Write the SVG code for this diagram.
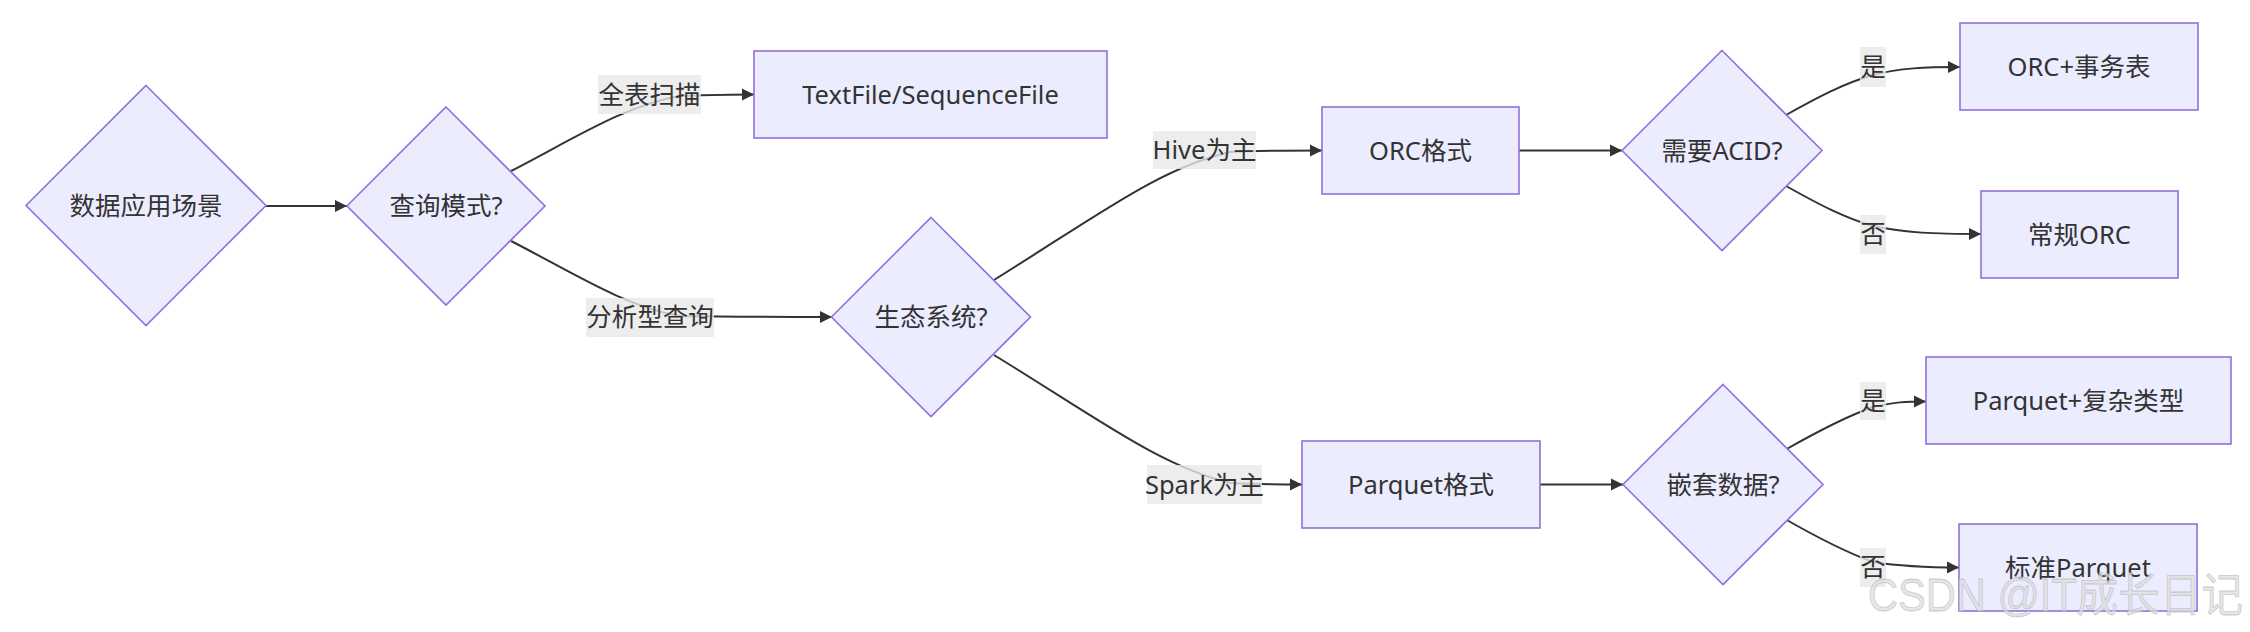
<svg xmlns="http://www.w3.org/2000/svg" width="2250" height="632" viewBox="0 0 2250 632">
<style>
.node rect, .node polygon { fill: #ECECFF; stroke: #9370DB; stroke-width: 1.6; }
.edge { fill: none; stroke: #333333; stroke-width: 2; marker-end: url(#arrow); }
text { font-family: "Noto Sans", "Noto Sans CJK SC", sans-serif; font-size: 25.5px; fill: #333333; text-anchor: middle; }
.lbl rect { fill: #e8e8e8; fill-opacity: 0.8; }
.wm { font-family: "Liberation Sans", "Noto Sans CJK SC", sans-serif; font-size: 46px; fill: #dedede; fill-opacity: 0.75; stroke: #b0b0b0; stroke-width: 0.8; stroke-opacity: 0.6; text-anchor: start; }
</style>
<defs>
<marker id="arrow" viewBox="0 0 10 10" refX="10" refY="5" markerUnits="userSpaceOnUse" markerWidth="12.5" markerHeight="13" orient="auto">
<path d="M0,0 L10,5 L0,10 z" fill="#333333"/>
</marker>
</defs>
<rect width="2250" height="632" fill="#ffffff"/>

<g id="connectors">
<path class="edge" d="M266,206 L347,206"/>
<path class="edge" d="M511,171 C570,141 625,105 680,96 C710,95 730,94.5 754,94.5"/>
<path class="edge" d="M511,241 C570,271 625,307 680,316 C740,317 790,317 832,317"/>
<path class="edge" d="M994,280 C1100,214 1160,168 1230,152 C1260,150.5 1290,150.5 1322,150.5"/>
<path class="edge" d="M994,355 C1100,420 1160,466 1230,483 C1260,484.5 1280,484.5 1302,484.5"/>
<path class="edge" d="M1519,150.5 L1622,150.5"/>
<path class="edge" d="M1540,484.5 L1623,484.5"/>
<path class="edge" d="M1786,115 C1820,96 1845,83 1873,75 C1900,68 1925,67 1960,67"/>
<path class="edge" d="M1786,186 C1820,205 1845,218 1873,226 C1905,233 1935,234 1981,234"/>
<path class="edge" d="M1785,450 C1820,430 1845,417 1873,407 C1895,402 1905,401.5 1926,401.5"/>
<path class="edge" d="M1785,519 C1820,539 1845,552 1873,562 C1905,567 1930,567.5 1959,567.5"/>
</g>

<g id="edge-labels">
<g class="lbl"><rect x="598" y="75" width="103" height="39"/><text x="649.5" y="103.5">全表扫描</text></g>
<g class="lbl"><rect x="586" y="298" width="128" height="39"/><text x="650" y="326">分析型查询</text></g>
<g class="lbl"><rect x="1153" y="131" width="103" height="38"/><text x="1204.5" y="159">Hive为主</text></g>
<g class="lbl"><rect x="1147" y="465" width="115" height="39"/><text x="1204.5" y="493.5">Spark为主</text></g>
<g class="lbl"><rect x="1860" y="47" width="26" height="40"/><text x="1873" y="76">是</text></g>
<g class="lbl"><rect x="1860" y="215" width="26" height="39"/><text x="1873" y="243">否</text></g>
<g class="lbl"><rect x="1860" y="382" width="26" height="38"/><text x="1873" y="410">是</text></g>
<g class="lbl"><rect x="1860" y="548" width="26" height="39"/><text x="1873" y="576">否</text></g>
</g>

<g id="node-scene" class="node">
<polygon points="146,85.5 266,205.5 146,325.5 26,205.5"/>
<text x="146" y="215">数据应用场景</text>
</g>
<g id="node-query" class="node">
<polygon points="446,107 545,206 446,305 347,206"/>
<text x="446" y="215">查询模式?</text>
</g>
<g id="node-textfile" class="node">
<rect x="754" y="51" width="353" height="87"/>
<text x="930.5" y="103.5">TextFile/SequenceFile</text>
</g>
<g id="node-eco" class="node">
<polygon points="931,217.5 1030.5,317 931,416.5 831.5,317"/>
<text x="931" y="326">生态系统?</text>
</g>
<g id="node-orc" class="node">
<rect x="1322" y="107" width="197" height="87"/>
<text x="1420.5" y="159.5">ORC格式</text>
</g>
<g id="node-parquet" class="node">
<rect x="1302" y="441" width="238" height="87"/>
<text x="1421" y="493.5">Parquet格式</text>
</g>
<g id="node-acid" class="node">
<polygon points="1722,50.5 1822,150.5 1722,250.5 1622,150.5"/>
<text x="1722" y="160">需要ACID?</text>
</g>
<g id="node-nested" class="node">
<polygon points="1723,384.5 1823,484.5 1723,584.5 1623,484.5"/>
<text x="1723" y="494">嵌套数据?</text>
</g>
<g id="node-orc-acid" class="node">
<rect x="1960" y="23" width="238" height="87"/>
<text x="2079" y="75.5">ORC+事务表</text>
</g>
<g id="node-orc-normal" class="node">
<rect x="1981" y="191" width="197" height="87"/>
<text x="2079.5" y="243.5">常规ORC</text>
</g>
<g id="node-parquet-complex" class="node">
<rect x="1926" y="357" width="305" height="87"/>
<text x="2078.5" y="409.5">Parquet+复杂类型</text>
</g>
<g id="node-parquet-std" class="node">
<rect x="1959" y="524" width="238" height="87"/>
<text x="2078" y="576.5">标准Parquet</text>
</g>

<text class="wm" x="1868" y="611" textLength="375" lengthAdjust="spacingAndGlyphs">CSDN @IT成长日记</text>
</svg>
